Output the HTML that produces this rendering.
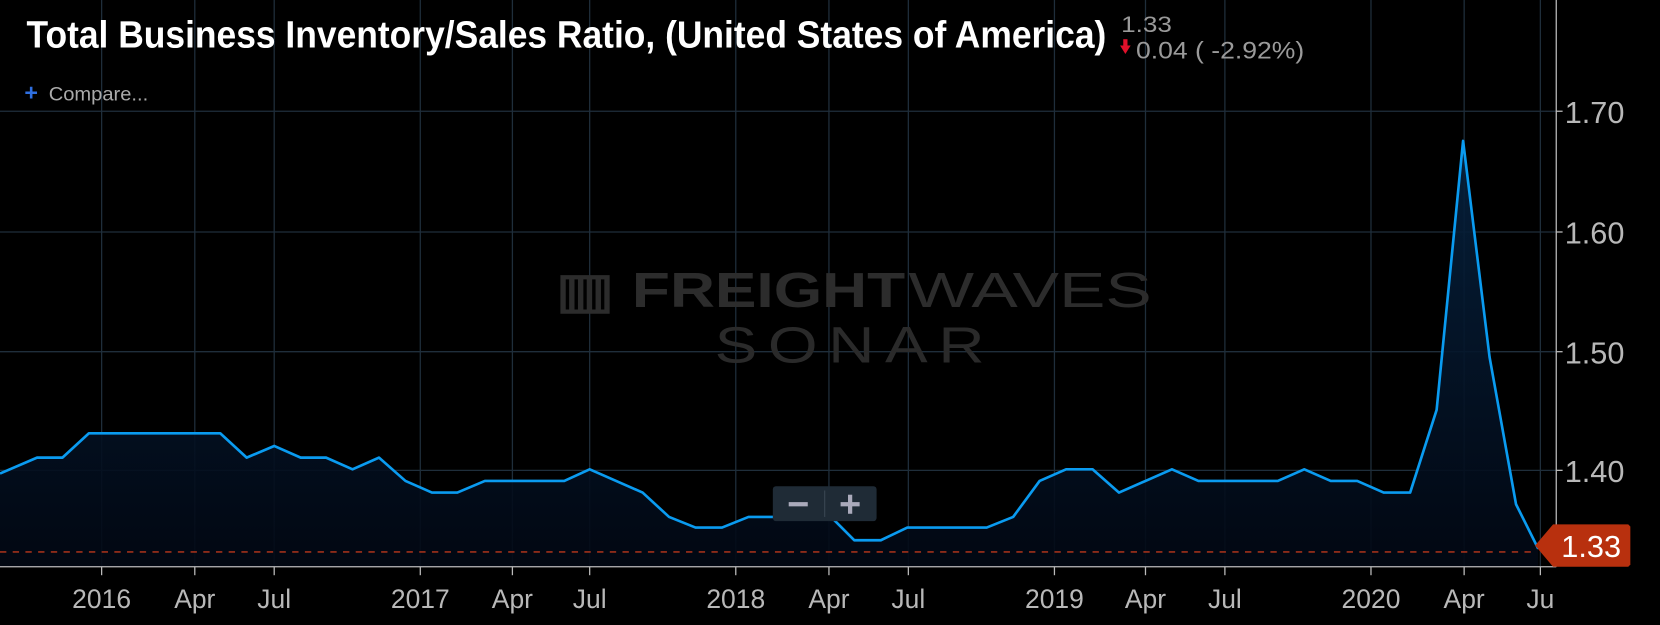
<!DOCTYPE html>
<html><head><meta charset="utf-8"><style>
html,body{margin:0;padding:0;background:#000;width:1660px;height:625px;overflow:hidden}
svg{display:block}
text{font-family:"Liberation Sans",sans-serif}
</style></head><body>
<svg width="1660" height="625" viewBox="0 0 1568 590" preserveAspectRatio="none" xmlns="http://www.w3.org/2000/svg">
<defs>
<linearGradient id="g" x1="0" y1="0" x2="0" y2="1">
<stop offset="0" stop-color="#06223f" stop-opacity="0.9"/>
<stop offset="1" stop-color="#020814" stop-opacity="0.9"/>
</linearGradient>
</defs>
<rect width="1568" height="590" fill="#000"/>
<g stroke="#1f2e3b" stroke-width="1.2">
<line x1="0" y1="105" x2="1470" y2="105"/>
<line x1="0" y1="219" x2="1470" y2="219"/>
<line x1="0" y1="332" x2="1470" y2="332"/>
<line x1="0" y1="444" x2="1470" y2="444"/>
<line x1="96" y1="0" x2="96" y2="535"/><line x1="184" y1="0" x2="184" y2="535"/><line x1="259" y1="0" x2="259" y2="535"/>
<line x1="397" y1="0" x2="397" y2="535"/><line x1="484" y1="0" x2="484" y2="535"/><line x1="557" y1="0" x2="557" y2="535"/>
<line x1="695" y1="0" x2="695" y2="535"/><line x1="783" y1="0" x2="783" y2="535"/><line x1="858" y1="0" x2="858" y2="535"/>
<line x1="996" y1="0" x2="996" y2="535"/><line x1="1082" y1="0" x2="1082" y2="535"/><line x1="1157" y1="0" x2="1157" y2="535"/>
<line x1="1295" y1="0" x2="1295" y2="535"/><line x1="1383" y1="0" x2="1383" y2="535"/><line x1="1455" y1="0" x2="1455" y2="535"/>
</g>
<!-- watermark -->
<text x="525" y="290" font-size="46" font-weight="bold" fill="#2c2c2c" textLength="330" lengthAdjust="spacingAndGlyphs">▥ FREIGHT</text>
<text x="858" y="290" font-size="46" fill="#2c2c2c" textLength="230" lengthAdjust="spacingAndGlyphs">WAVES</text>
<text x="675" y="342" font-size="48" fill="#2a2a2a" textLength="265" lengthAdjust="spacingAndGlyphs" letter-spacing="8">SONAR</text>
<polygon fill="url(#g)" points="0,447 35,432 59,432 84,409 208,409 233,432 259,421 284,432 308,432 333,443 358,432 383,454 408,465 432,465 458,454 533,454 557,443 607,465 632,488 657,498 682,498 707,488 732,488 785,488 807,510 832,510 857,498 932,498 957,488 982,454 1007,443 1032,443 1057,465 1107,443 1132,454 1207,454 1232,443 1257,454 1282,454 1307,465 1332,465 1357,387 1382,133 1407,337 1432,476 1453,518 1453,535 0,535"/>
<line x1="0" y1="521" x2="1450" y2="521" stroke="#a0301a" stroke-width="1.5" stroke-dasharray="6,6"/>
<polyline fill="none" stroke="#0a9bf0" stroke-width="2.5" stroke-linejoin="round" points="0,447 35,432 59,432 84,409 208,409 233,432 259,421 284,432 308,432 333,443 358,432 383,454 408,465 432,465 458,454 533,454 557,443 607,465 632,488 657,498 682,498 707,488 732,488 785,488 807,510 832,510 857,498 932,498 957,488 982,454 1007,443 1032,443 1057,465 1107,443 1132,454 1207,454 1232,443 1257,454 1282,454 1307,465 1332,465 1357,387 1382,133 1407,337 1432,476 1453,518"/>
<!-- axes -->
<line x1="0" y1="535" x2="1470" y2="535" stroke="#bbb" stroke-width="1.2"/>
<line x1="1470" y1="0" x2="1470" y2="535" stroke="#bbb" stroke-width="1.2"/>
<g stroke="#bbb" stroke-width="1.2">
<line x1="96" y1="535" x2="96" y2="543"/><line x1="184" y1="535" x2="184" y2="543"/><line x1="259" y1="535" x2="259" y2="543"/>
<line x1="397" y1="535" x2="397" y2="543"/><line x1="484" y1="535" x2="484" y2="543"/><line x1="557" y1="535" x2="557" y2="543"/>
<line x1="695" y1="535" x2="695" y2="543"/><line x1="783" y1="535" x2="783" y2="543"/><line x1="858" y1="535" x2="858" y2="543"/>
<line x1="996" y1="535" x2="996" y2="543"/><line x1="1082" y1="535" x2="1082" y2="543"/><line x1="1157" y1="535" x2="1157" y2="543"/>
<line x1="1295" y1="535" x2="1295" y2="543"/><line x1="1383" y1="535" x2="1383" y2="543"/><line x1="1455" y1="535" x2="1455" y2="543"/>
<line x1="1470" y1="105" x2="1476" y2="105"/><line x1="1470" y1="219" x2="1476" y2="219"/><line x1="1470" y1="332" x2="1476" y2="332"/><line x1="1470" y1="444" x2="1476" y2="444"/>
</g>
<g fill="#b8b8b8" font-size="25" text-anchor="middle">
<text x="96" y="574">2016</text><text x="184" y="574">Apr</text><text x="259" y="574">Jul</text>
<text x="397" y="574">2017</text><text x="484" y="574">Apr</text><text x="557" y="574">Jul</text>
<text x="695" y="574">2018</text><text x="783" y="574">Apr</text><text x="858" y="574">Jul</text>
<text x="996" y="574">2019</text><text x="1082" y="574">Apr</text><text x="1157" y="574">Jul</text>
<text x="1295" y="574">2020</text><text x="1383" y="574">Apr</text><text x="1455" y="574">Ju</text>
</g>
<g fill="#b8b8b8" font-size="29">
<text x="1478" y="116">1.70</text><text x="1478" y="230">1.60</text><text x="1478" y="343">1.50</text><text x="1478" y="455">1.40</text>
</g>
<!-- badge -->
<polygon fill="#b8300e" points="1450,515 1467,495 1538,495 1540,497 1540,533 1538,535 1467,535"/>
<text x="1503" y="526" font-size="29" fill="#fff" text-anchor="middle">1.33</text>
<!-- zoom buttons -->
<rect x="730" y="459" width="98" height="33" rx="3" fill="#1f2b36"/>
<line x1="779" y1="463" x2="779" y2="488" stroke="#3a4754"/>
<rect x="745" y="474" width="18" height="4" fill="#aab"/>
<rect x="794" y="474" width="18" height="4" fill="#aab"/><rect x="801" y="467" width="4" height="18" fill="#aab"/>
<!-- title -->
<text x="25" y="45" font-size="36" font-weight="bold" fill="#fff" font-family="Liberation Sans Narrow, Liberation Sans, sans-serif" textLength="1020" lengthAdjust="spacingAndGlyphs">Total Business Inventory/Sales Ratio, (United States of America)</text>
<text x="1059" y="30" font-size="21" fill="#9a9a9a" textLength="48" lengthAdjust="spacingAndGlyphs">1.33</text>
<polygon points="1058,43 1068,43 1063,51" fill="#e0102a"/><rect x="1061" y="37" width="4" height="7" fill="#e0102a"/>
<text x="1073" y="55" font-size="23" fill="#9a9a9a" textLength="159" lengthAdjust="spacingAndGlyphs">0.04 ( -2.92%)</text>
<text x="23" y="95" font-size="22" fill="#2f6fe0" font-weight="bold">+</text>
<text x="46" y="95" font-size="18" fill="#aaa" textLength="94" lengthAdjust="spacingAndGlyphs">Compare...</text>
</svg>
</body></html>
